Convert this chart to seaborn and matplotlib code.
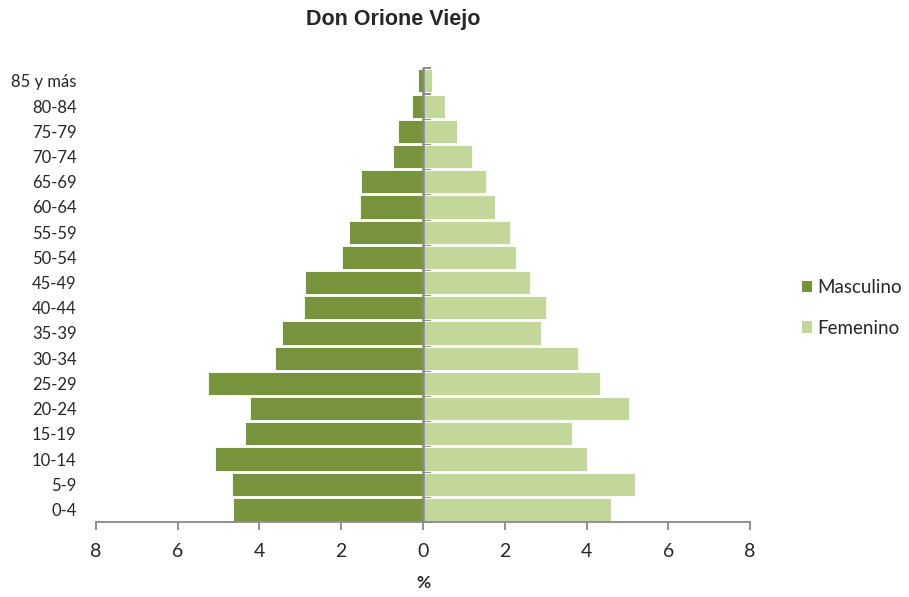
import matplotlib
matplotlib.use("Agg")
import matplotlib.pyplot as plt
import seaborn as sns
import pandas as pd
from matplotlib.ticker import FuncFormatter
from matplotlib.patches import Patch

age_groups = ["85 y más", "80-84", "75-79", "70-74", "65-69", "60-64", "55-59",
              "50-54", "45-49", "40-44", "35-39", "30-34", "25-29", "20-24",
              "15-19", "10-14", "5-9", "0-4"]
masculino = [0.12, 0.27, 0.60, 0.74, 1.51, 1.54, 1.82, 1.98, 2.89, 2.92, 3.44,
             3.63, 5.27, 4.23, 4.36, 5.10, 4.67, 4.64]
femenino = [0.23, 0.53, 0.84, 1.19, 1.55, 1.75, 2.13, 2.27, 2.62, 3.01, 2.88,
            3.78, 4.33, 5.04, 3.64, 4.02, 5.18, 4.60]
x_ticks = [-8, -6, -4, -2, 0, 2, 4, 6, 8]

col_m = "#77933C"
col_f = "#C4D79B"

df = pd.DataFrame({
    "edad": age_groups * 2,
    "valor": [-v for v in masculino] + femenino,
    "sexo": ["Masculino"] * len(age_groups) + ["Femenino"] * len(age_groups),
})

sns.set_style("white")
plt.rcParams["font.family"] = ["Lato", "DejaVu Sans"]

fig = plt.figure(figsize=(9.09, 5.97), dpi=100)
ax = fig.add_axes([0.1056, 0.1256, 0.7195, 0.76])

sns.barplot(data=df, y="edad", x="valor", hue="sexo", order=age_groups,
            hue_order=["Masculino", "Femenino"],
            palette={"Masculino": col_m, "Femenino": col_f},
            dodge=False, width=0.92, orient="h", ax=ax, legend=False,
            saturation=1, edgecolor="white", linewidth=0.6)

ax.set_xlim(-8, 8)
ax.set_ylim(len(age_groups) - 0.5, -0.5)
ax.set_xticks(x_ticks)
ax.xaxis.set_major_formatter(FuncFormatter(lambda v, p: f"{abs(int(v))}"))
for s in ["top", "right", "left"]:
    ax.spines[s].set_visible(False)
ax.spines["bottom"].set_color("#888888")
ax.spines["bottom"].set_linewidth(1.3)
ax.tick_params(axis="x", direction="out", length=6, width=1.3, color="#888888",
               labelsize=14, pad=9, bottom=True)
ax.tick_params(axis="y", length=0, labelsize=12, pad=14)
for lab in ax.get_yticklabels():
    lab.set_horizontalalignment("right")
ax.set_ylabel("")
ax.set_xlabel("%", fontsize=12.5, fontweight="bold", labelpad=11)

# central axis line with category boundary ticks
ax.axvline(0, color="#888888", linewidth=1.8, zorder=5)
sec = ax.secondary_yaxis(0.5)
sec.set_yticks([i - 0.5 for i in range(len(age_groups) + 1)])
sec.set_yticklabels([])
sec.spines["left"].set_visible(False)
sec.tick_params(axis="y", direction="out", length=6, width=1.3, color="#888888")

fig.suptitle("Don Orione Viejo", x=0.433, y=0.985, fontsize=15.5, fontweight="bold",
             fontfamily="Liberation Sans")

handles = [Patch(facecolor=col_m, edgecolor="none", label="Masculino"),
           Patch(facecolor=col_f, edgecolor="none", label="Femenino")]
fig.legend(handles=handles, loc="center left", bbox_to_anchor=(0.882, 0.484),
           frameon=False, fontsize=13.5, handlelength=0.55, handleheight=0.55,
           handletextpad=0.3, labelspacing=1.25, borderpad=0, borderaxespad=0)

fig.savefig("out.png", dpi=100)
